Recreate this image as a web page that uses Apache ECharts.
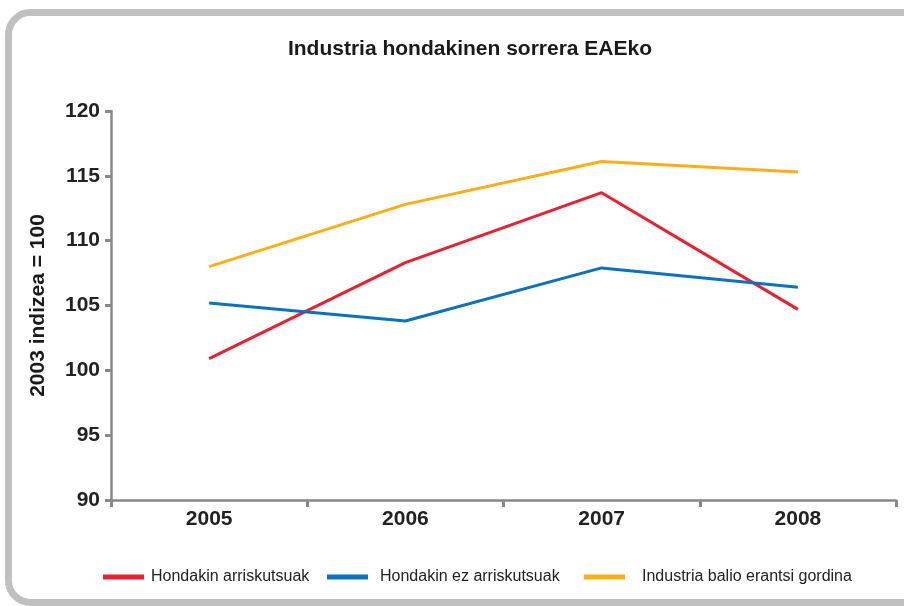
<!DOCTYPE html>
<html><head><meta charset="utf-8">
<script src="https://cdn.jsdelivr.net/npm/echarts@6/dist/echarts.min.js"></script>
<style>html,body{margin:0;padding:0;background:#fff}#c{width:904px;height:606px}</style>
</head><body><div id="c"></div>
<script>
const title = 'Industria hondakinen sorrera EAEko';
const yAxisName = '2003 indizea = 100';
const years = ['2005', '2006', '2007', '2008'];
const seriesNames = ['Hondakin arriskutsuak', 'Hondakin ez arriskutsuak', 'Industria balio erantsi gordina'];
const arriskutsuak = [100.9, 108.3, 113.7, 104.7];
const ezArriskutsuak = [105.2, 103.8, 107.9, 106.4];
const balioErantsi = [108.0, 112.8, 116.1, 115.3];
const colors = ['#e8202f', '#0a72bf', '#fbae17'];

const chart = echarts.init(document.getElementById('c'));
const font = 'Liberation Sans, Arial, Helvetica, sans-serif';
const values = [arriskutsuak, ezArriskutsuak, balioErantsi];
const legendLefts = [103, 327, 584];
chart.setOption({
  animation: false,
  textStyle: {fontFamily: font},
  graphic: [{
    type: 'rect', z: -10,
    shape: {x: 8.5, y: 12.5, width: 920, height: 590, r: 22},
    style: {fill: '#fff', stroke: '#c0c0c0', lineWidth: 7}
  }],
  title: {
    text: title, left: 470, top: 39, textAlign: 'center', padding: 0,
    textStyle: {fontFamily: font, fontWeight: 'bold', fontSize: 21, color: '#1a1a1a'}
  },
  legend: seriesNames.map((n, i) => ({
    data: [n], left: legendLefts[i], top: 569, icon: 'rect', padding: 0,
    itemWidth: 41, itemHeight: 5, itemGap: 0,
    textStyle: {fontFamily: font, fontSize: 16, color: '#222', padding: [0, 0, 0, 2 + i * 5]}
  })),
  grid: {left: 111, right: 8, top: 111, bottom: 106},
  xAxis: {
    type: 'category', data: years, boundaryGap: true,
    axisLine: {lineStyle: {color: '#888', width: 2.5}},
    axisTick: {show: true, length: 7, lineStyle: {color: '#888', width: 3}},
    axisLabel: {fontFamily: font, fontWeight: 'bold', fontSize: 21, color: '#222', margin: 9}
  },
  yAxis: {
    type: 'value', min: 90, max: 120, interval: 5,
    name: yAxisName, nameLocation: 'middle', nameGap: 62, nameRotate: 90,
    nameTextStyle: {fontFamily: font, fontWeight: 'bold', fontSize: 21, color: '#1a1a1a'},
    axisLine: {show: true, lineStyle: {color: '#888', width: 2.5}},
    axisTick: {show: true, length: 6, lineStyle: {color: '#888', width: 3}},
    axisLabel: {fontFamily: font, fontWeight: 'bold', fontSize: 21, color: '#222', margin: 11},
    splitLine: {show: false}
  },
  series: seriesNames.map((n, i) => ({
    name: n, type: 'line', data: values[i], symbol: 'none',
    lineStyle: {color: colors[i], width: 3}, itemStyle: {color: colors[i]}
  }))
});
</script></body></html>
